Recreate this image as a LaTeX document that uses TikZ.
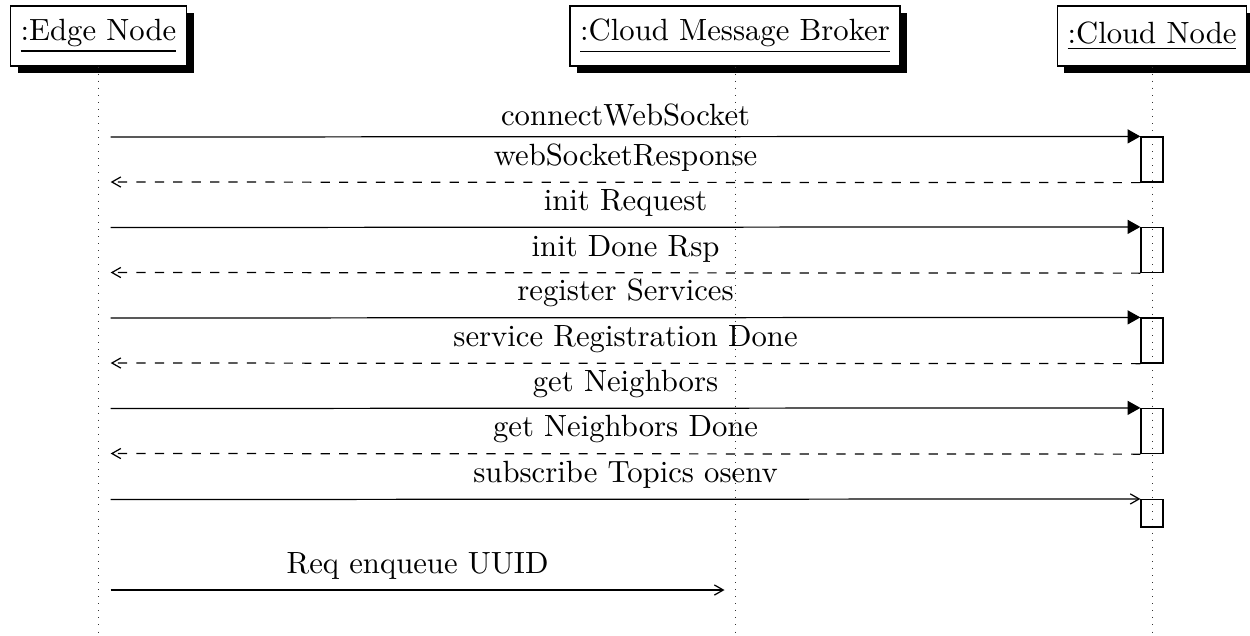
\documentclass[tikz,border=0pt]{standalone}
\usetikzlibrary{arrows.meta,shadows}
\begin{document}
\begin{tikzpicture}[x=0.3257pt,y=-0.3257pt,
  inst/.style={draw, fill=white, minimum height=19.5pt, inner sep=3.33pt,
    drop shadow={shadow xshift=2.3pt, shadow yshift=-2.3pt, opacity=1, fill=black}},
  life/.style={dotted, line width=0.3pt, black!80},
  act/.style={draw, inner sep=0pt, minimum width=7.17pt, minimum height=14.66pt},
  actshort/.style={act, minimum height=8.96pt},
  call/.style={-{Triangle[length=4.2pt,width=4.6pt]}},
  ret/.style={dashed, -{Straight Barb[length=2.9pt,width=3.3pt]}},
  async/.style={-{Straight Barb[length=2.9pt,width=3.3pt]}},
  lbl/.style={midway, above}]
\useasboundingbox (0,0) rectangle (1250,635);

% participants
\node[inst] (edge)   at (98.5,36) {\underline{:Edge Node}};
\node[inst] (broker) at (735,36)  {\underline{:Cloud Message Broker}};
\node[inst] (cloud)  at (1152,36) {\underline{:Cloud Node}};

% lifelines
\coordinate (bot) at (0,635);
\draw[life] (edge.south)   -- (edge.south |- bot);
\draw[life] (broker.south) -- (broker.south |- bot);
\draw[life] (cloud.south)  -- (cloud.south |- bot);

% activations on the cloud node
\node[act]      (a1) at (1152,159.5) {};
\node[act]      (a2) at (1152,250)   {};
\node[act]      (a3) at (1152,340.5) {};
\node[act]      (a4) at (1152,431)   {};
\node[actshort] (a5) at (1152,513.3) {};

% message ends on the edge node side
\coordinate (s1) at (110.7,137);   \coordinate (r1) at (110.7,182);
\coordinate (s2) at (110.7,227.5); \coordinate (r2) at (110.7,272.5);
\coordinate (s3) at (110.7,318);   \coordinate (r3) at (110.7,363);
\coordinate (s4) at (110.7,408.5); \coordinate (r4) at (110.7,453.5);
\coordinate (s5) at (110.7,499.5);
\coordinate (s6) at (110.7,590);   \coordinate (b6) at (724.5,590);

% messages
\draw[call] (s1) -- (a1.north west) node[lbl] {connectWebSocket};
\draw[ret]  (a1.south west) -- (r1) node[lbl] {webSocketResponse};
\draw[call] (s2) -- (a2.north west) node[lbl] {init Request};
\draw[ret]  (a2.south west) -- (r2) node[lbl] {init Done Rsp};
\draw[call] (s3) -- (a3.north west) node[lbl] {register Services};
\draw[ret]  (a3.south west) -- (r3) node[lbl] {service Registration Done};
\draw[call] (s4) -- (a4.north west) node[lbl] {get Neighbors};
\draw[ret]  (a4.south west) -- (r4) node[lbl] {get Neighbors Done};
\draw[async] (s5) -- (a5.north west) node[lbl] {subscribe Topics osenv};
\draw[async] (s6) -- (b6) node[lbl] {Req enqueue UUID};
\end{tikzpicture}
\end{document}
